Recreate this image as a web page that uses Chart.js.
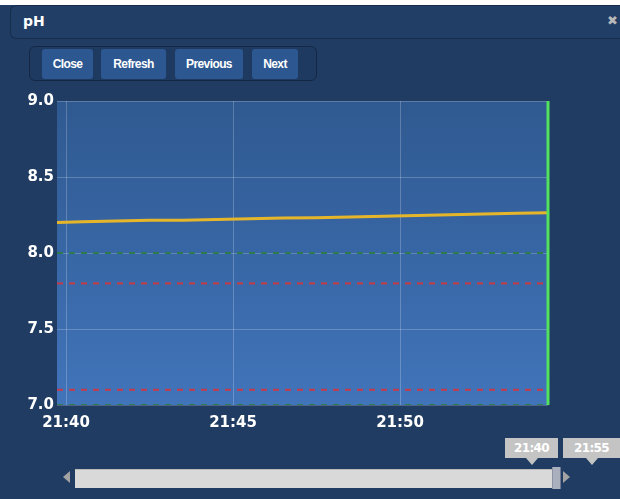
<!DOCTYPE html>
<html>
<head>
<meta charset="utf-8">
<script src="https://cdn.jsdelivr.net/npm/chart.js@4.4.1/dist/chart.umd.min.js"></script>
<style>
  html, body { margin: 0; padding: 0; }
  body { width: 620px; height: 499px; background: #203c62; position: relative; overflow: hidden; font-family: "DejaVu Sans", sans-serif; }
  .topstrip { position: absolute; left: 0; top: 0; width: 620px; height: 5px; background: #fff; }
  .titlebar { position: absolute; left: 10px; top: 5px; width: 620px; height: 32px; border: 1px solid #172d4c; border-right: none; border-radius: 6px 0 0 6px; background: #213e66; }
  .titlebar span { position: absolute; left: 12px; top: 7px; color: #fff; font: bold 14px "DejaVu Sans", sans-serif; }
  .closex { position: absolute; right: 2px; top: 13px; color: #b8b8b8; font: bold 13px "DejaVu Sans", sans-serif; }
  .toolbar { position: absolute; left: 29px; top: 46px; width: 286px; height: 33px; border: 1px solid #142845; border-radius: 6px; background: #1f3a60; }
  .btn { position: absolute; top: 2px; height: 30px; background: #2d5791; color: #fff; text-align: center; border-radius: 3px; font: bold 12px "Liberation Sans", sans-serif; line-height: 30px; letter-spacing: -0.6px; }
  #chartwrap { position: absolute; left: 0; top: 0; width: 620px; height: 499px; }
  .bar { position: absolute; left: 75px; top: 469px; width: 477px; height: 18px; background: #d9d9d9; border-top: 1px solid #bbb; }
  .handle { position: absolute; left: 552px; top: 467px; width: 7px; height: 22px; background: #a9afbd; border-left: 1px solid #8c93a4; border-right: 1px solid #6f7892; }
  .arrowL { position: absolute; left: 63px; top: 471px; width: 0; height: 0; border-top: 6px solid transparent; border-bottom: 6px solid transparent; border-right: 7px solid #a3a3a3; }
  .arrowR { position: absolute; left: 563px; top: 471px; width: 0; height: 0; border-top: 6px solid transparent; border-bottom: 6px solid transparent; border-left: 7px solid #a3a3a3; }
  .tag { position: absolute; top: 438px; height: 20px; background: #c4c4c4; color: #fff; font: bold 12px "DejaVu Sans", sans-serif; line-height: 20px; text-align: center; letter-spacing: -0.6px; }
  .tag:after { content: ""; position: absolute; left: 50%; margin-left: -6px; top: 20px; border-left: 6px solid transparent; border-right: 6px solid transparent; border-top: 7px solid #c4c4c4; }
</style>
</head>
<body>
<div class="topstrip"></div>
<div class="titlebar"><span>pH</span></div>
<div class="closex">✖</div>
<div class="toolbar">
  <div class="btn" style="left:12px;width:51px;">Close</div>
  <div class="btn" style="left:71px;width:65px;">Refresh</div>
  <div class="btn" style="left:145px;width:68px;">Previous</div>
  <div class="btn" style="left:222px;width:46px;">Next</div>
</div>
<div id="chartwrap"><canvas id="ph-chart" width="620" height="499"></canvas></div>
<div class="arrowL"></div>
<div class="bar"></div>
<div class="handle"></div>
<div class="arrowR"></div>
<div class="tag" style="left:505px;width:53px;">21:40</div>
<div class="tag" style="left:563px;width:57px;">21:55</div>

<script>
// minutes after 21:00
const X_MIN = 39.73;
const X_MAX = 54.43;
const X_TICKS = [40, 45, 50];

const times = [39.73, 40.5, 41.5, 42.5, 43.5, 44.5, 45.5, 46.5, 47.5, 48.5, 49.5, 50.5, 51.5, 52.5, 53.5, 54.43];
const phValues = [8.2, 8.205, 8.21, 8.215, 8.215, 8.22, 8.225, 8.23, 8.232, 8.237, 8.242, 8.247, 8.252, 8.256, 8.262, 8.265];

const greenLimits = [8.0, 7.0];
const redLimits = [7.8, 7.1];

function hline(y, color) {
  return {
    data: [{ x: X_MIN, y: y }, { x: X_MAX, y: y }],
    borderColor: color,
    borderWidth: 2,
    borderDash: [6, 6],
    pointRadius: 0,
    fill: false,
  };
}

const plotBg = {
  id: "plotBg",
  beforeDraw(chart) {
    const { ctx, chartArea: a } = chart;
    const g = ctx.createLinearGradient(0, a.top, 0, a.bottom);
    g.addColorStop(0, "#2f5990");
    g.addColorStop(1, "#4174ba");
    ctx.save();
    ctx.fillStyle = g;
    ctx.fillRect(a.left, a.top, a.right - a.left, a.bottom - a.top);
    ctx.restore();
  },
};

const datasets = [
  ...greenLimits.map((v) => hline(v, "#2c7a4e")),
  ...redLimits.map((v) => hline(v, "#c83a45")),
  {
    // current time marker
    data: [{ x: X_MAX, y: 7 }, { x: X_MAX, y: 9 }],
    borderColor: "#52e25e",
    borderWidth: 3,
    pointRadius: 0,
    clip: 6,
  },
  {
    data: times.map((t, i) => ({ x: t, y: phValues[i] })),
    borderColor: "#e6b62a",
    borderWidth: 3,
    pointRadius: 0,
    tension: 0,
  },
];

const fmt = (v) => {
  const h = 21 + Math.floor(v / 60);
  const m = Math.round(v % 60);
  return h + ":" + String(m).padStart(2, "0");
};

const chart = new Chart("ph-chart", {
  type: "line",
  data: { datasets: datasets },
  plugins: [plotBg],
  options: {
    responsive: false,
    animation: false,
    layout: { padding: { top: 101, right: 72, left: 0, bottom: 0 } },
    plugins: { legend: { display: false }, tooltip: { enabled: false } },
    scales: {
      x: {
        type: "linear",
        min: X_MIN,
        max: X_MAX,
        afterBuildTicks: (s) => { s.ticks = X_TICKS.map((v) => ({ value: v })); },
        afterFit: (s) => { s.height = 94; },
        grid: { color: "rgba(255,255,255,0.22)", drawTicks: false },
        border: { display: false },
        ticks: {
          color: "#fff",
          padding: 9,
          maxRotation: 0,
          font: { family: "DejaVu Sans", size: 15, weight: "bold" },
          callback: fmt,
        },
      },
      y: {
        min: 7,
        max: 9,
        afterFit: (s) => { s.width = 57; },
        grid: { color: "rgba(255,255,255,0.22)", drawTicks: false },
        border: { display: false },
        ticks: {
          stepSize: 0.5,
          color: "#fff",
          padding: 3,
          font: { family: "DejaVu Sans", size: 15, weight: "bold" },
          callback: (v) => v.toFixed(1),
        },
      },
    },
  },
});
</script>
</body>
</html>
